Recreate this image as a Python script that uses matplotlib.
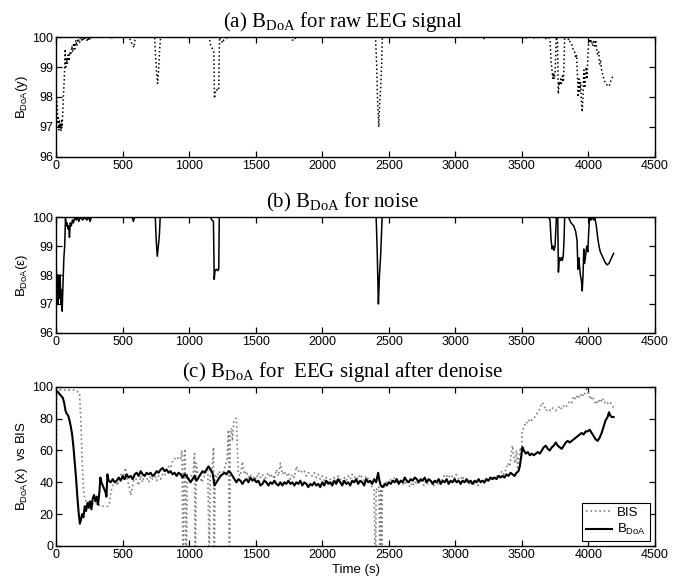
import matplotlib
matplotlib.use("Agg")
import matplotlib.pyplot as plt
import numpy as np

# B_DoA of the raw EEG signal (time in s, index value)
raw_points = [(0, 98.0), (3, 97.9), (8, 97.8), (12, 97.1), (16, 97.3), (20, 96.9), (24, 97.2), (28, 97.0),
              (32, 97.1), (36, 96.85), (40, 97.2), (45, 97.0), (50, 97.5), (55, 98.1), (62, 98.7), (68, 99.6),
              (72, 99.0), (78, 99.3), (84, 99.1), (90, 99.4), (96, 99.2), (102, 99.5), (110, 99.4), (118, 99.7),
              (125, 99.5), (132, 99.8), (140, 99.6), (148, 99.9), (155, 99.7), (165, 99.95), (175, 99.8),
              (185, 100), (195, 99.85), (205, 100), (215, 99.9), (225, 100), (235, 99.85), (245, 100),
              (255, 99.9), (265, 100), (410, 100), (415, 99.92), (420, 100), (550, 100), (560, 99.85),
              (575, 99.75), (585, 99.65), (595, 100), (740, 100), (748, 99.3), (755, 98.8), (762, 98.45),
              (770, 98.9), (778, 99.6), (785, 100), (990, 100), (995, 99.95), (1000, 100), (1150, 100),
              (1160, 99.75), (1175, 99.6), (1185, 99.5), (1190, 97.95), (1195, 98.2), (1205, 98.25),
              (1215, 98.2), (1222, 98.3), (1228, 100), (1240, 99.9), (1250, 99.8), (1260, 99.9),
              (1275, 99.95), (1290, 100), (1770, 100), (1775, 99.9), (1795, 99.9), (1800, 100),
              (2400, 100), (2408, 99.2), (2415, 98.0), (2425, 97.0), (2432, 97.8), (2440, 98.4),
              (2447, 99.2), (2452, 100), (3200, 100), (3205, 99.93), (3215, 99.95), (3220, 100),
              (3490, 100), (3500, 99.95), (3520, 100), (3540, 99.96), (3560, 100), (3600, 99.97),
              (3650, 100), (3680, 99.95), (3700, 100), (3712, 99.9), (3720, 99.2), (3727, 98.9),
              (3733, 98.6), (3738, 98.8), (3744, 98.6), (3750, 98.8), (3755, 99.5), (3760, 100),
              (3768, 99.9), (3774, 98.1), (3780, 98.5), (3786, 98.4), (3792, 98.6), (3798, 98.45),
              (3805, 98.7), (3812, 98.5), (3818, 99.2), (3822, 100), (3835, 100), (3845, 99.9),
              (3855, 99.95), (3865, 99.8), (3875, 99.75), (3885, 99.6), (3895, 99.55), (3905, 99.3),
              (3912, 99.4), (3918, 98.7), (3924, 98.0), (3930, 98.6), (3936, 98.2), (3942, 98.5),
              (3948, 97.8), (3954, 97.5), (3960, 98.0), (3966, 98.9), (3972, 98.3), (3978, 98.6),
              (3984, 99.0), (3990, 98.6), (3996, 99.3), (4002, 99.8), (4008, 100), (4016, 99.8),
              (4024, 99.9), (4032, 99.7), (4040, 99.85), (4048, 99.7), (4055, 99.9), (4062, 99.6),
              (4070, 99.4), (4078, 99.5), (4085, 99.1), (4092, 99.2), (4100, 98.9), (4110, 98.7),
              (4120, 98.55), (4130, 98.45), (4140, 98.4), (4150, 98.35), (4160, 98.4), (4170, 98.55),
              (4180, 98.65), (4190, 98.75)]

# B_DoA of the noise component
noise_points = [(0, 98.6), (5, 97.0), (10, 98.0), (15, 97.0), (20, 98.0), (25, 97.2), (30, 98.0), (35, 97.0),
                (40, 97.5), (45, 96.75), (52, 97.8), (58, 98.6), (64, 99.0), (70, 99.95), (76, 99.7),
                (82, 99.8), (88, 99.6), (94, 99.7), (100, 99.3), (106, 99.8), (114, 99.7), (122, 99.9),
                (130, 99.8), (140, 100), (150, 99.9), (160, 100), (170, 99.85), (180, 100), (200, 99.9),
                (215, 100), (230, 99.9), (245, 100), (255, 99.85), (265, 100), (570, 100), (580, 99.85),
                (590, 100), (745, 100), (752, 99.2), (760, 98.65), (768, 99.0), (776, 99.4), (782, 100),
                (1160, 100), (1170, 99.9), (1182, 99.85), (1188, 97.85), (1194, 98.15), (1205, 98.2),
                (1215, 98.15), (1222, 98.2), (1226, 100), (2405, 100), (2412, 99.0), (2418, 97.8),
                (2422, 97.0), (2430, 98.0), (2438, 98.6), (2446, 99.5), (2450, 100), (3700, 100),
                (3712, 99.9), (3720, 99.2), (3728, 98.9), (3735, 99.0), (3742, 98.85), (3750, 99.0),
                (3756, 99.6), (3760, 100), (3770, 100), (3775, 98.1), (3782, 98.6), (3790, 98.5),
                (3797, 98.6), (3805, 98.5), (3812, 98.7), (3818, 99.3), (3822, 100), (3850, 100),
                (3860, 99.9), (3870, 99.8), (3890, 99.7), (3905, 99.5), (3915, 99.2), (3922, 98.2),
                (3928, 98.6), (3934, 98.3), (3940, 98.0), (3948, 97.8), (3954, 97.45), (3960, 98.0),
                (3966, 98.9), (3972, 98.4), (3980, 98.7), (3988, 99.0), (3996, 98.8), (4004, 99.6),
                (4010, 100), (4020, 99.9), (4030, 100), (4040, 99.9), (4050, 99.95), (4060, 99.7),
                (4070, 99.3), (4080, 99.0), (4090, 98.8), (4100, 98.7), (4110, 98.6), (4125, 98.45),
                (4140, 98.35), (4155, 98.4), (4170, 98.55), (4180, 98.65), (4190, 98.75)]

# BIS monitor reading (drops to 0 are signal dropouts)
bis_points = [(0, 0), (3, 98), (20, 98), (40, 98), (60, 98), (80, 98), (100, 98), (120, 98), (140, 98),
              (160, 97), (175, 96), (185, 80), (195, 55), (205, 35), (215, 30), (225, 28), (240, 27),
              (255, 29), (270, 26), (285, 27), (300, 27), (315, 25), (330, 26), (345, 25), (360, 25),
              (375, 25), (390, 25), (400, 27), (410, 33), (420, 37), (430, 39), (445, 41), (460, 38),
              (475, 42), (490, 45), (505, 41), (520, 49), (535, 42), (550, 37), (560, 32), (575, 38),
              (590, 44), (605, 41), (620, 38), (635, 44), (650, 40), (665, 46), (680, 43), (695, 40),
              (710, 44), (725, 42), (740, 45), (755, 41), (770, 44), (785, 42), (800, 45), (815, 44),
              (830, 47), (845, 50), (860, 49), (875, 53), (890, 55), (905, 54), (920, 56), (935, 55),
              (945, 60), (952, 0), (958, 0), (962, 56), (970, 61), (975, 0), (980, 0), (985, 45),
              (1000, 42), (1015, 44), (1030, 46), (1040, 58), (1043, 0), (1048, 0), (1052, 52),
              (1065, 45), (1080, 44), (1095, 40), (1110, 43), (1125, 46), (1140, 48), (1148, 0),
              (1152, 0), (1158, 45), (1170, 47), (1183, 62), (1186, 0), (1190, 0), (1194, 45),
              (1210, 43), (1225, 47), (1240, 44), (1255, 46), (1270, 50), (1285, 55), (1295, 73),
              (1300, 0), (1305, 0), (1308, 70), (1318, 74), (1325, 66), (1335, 78), (1345, 80),
              (1355, 80), (1362, 60), (1370, 45), (1385, 44), (1400, 53), (1415, 45), (1430, 47),
              (1445, 43), (1460, 45), (1475, 41), (1490, 44), (1505, 42), (1520, 46), (1535, 43),
              (1550, 45), (1565, 41), (1580, 44), (1595, 46), (1610, 43), (1625, 45), (1640, 42),
              (1655, 48), (1670, 44), (1685, 52), (1700, 45), (1715, 47), (1730, 44), (1745, 46),
              (1760, 42), (1775, 45), (1790, 43), (1805, 50), (1820, 47), (1835, 48), (1850, 46),
              (1865, 47), (1880, 44), (1895, 46), (1910, 45), (1925, 44), (1940, 46), (1955, 43),
              (1970, 45), (1985, 42), (2000, 44), (2015, 41), (2030, 43), (2045, 40), (2060, 42),
              (2075, 40), (2090, 43), (2105, 41), (2120, 44), (2135, 42), (2150, 40), (2165, 43),
              (2180, 41), (2195, 44), (2210, 42), (2225, 45), (2240, 43), (2255, 44), (2270, 42),
              (2285, 45), (2300, 43), (2315, 41), (2330, 44), (2345, 42), (2360, 40), (2375, 37),
              (2390, 35), (2396, 0), (2402, 0), (2405, 36), (2415, 35), (2425, 37), (2432, 0),
              (2437, 0), (2440, 36), (2445, 0), (2449, 0), (2452, 38), (2465, 37), (2480, 40),
              (2495, 39), (2510, 42), (2525, 40), (2540, 43), (2555, 41), (2570, 39), (2585, 42),
              (2600, 40), (2615, 38), (2630, 41), (2645, 39), (2660, 37), (2675, 40), (2690, 38),
              (2705, 41), (2720, 39), (2735, 42), (2750, 40), (2765, 38), (2780, 41), (2795, 39),
              (2810, 42), (2825, 40), (2840, 38), (2855, 41), (2870, 39), (2885, 42), (2900, 41),
              (2915, 44), (2930, 43), (2945, 45), (2960, 43), (2975, 44), (2990, 42), (3005, 45),
              (3020, 43), (3035, 40), (3050, 44), (3065, 42), (3080, 39), (3095, 41), (3110, 38),
              (3125, 40), (3140, 39), (3155, 41), (3170, 38), (3185, 40), (3200, 42), (3215, 39),
              (3230, 43), (3245, 41), (3260, 43), (3275, 42), (3290, 44), (3305, 42), (3320, 45),
              (3335, 44), (3350, 47), (3365, 45), (3380, 48), (3395, 52), (3410, 50), (3420, 58),
              (3430, 63), (3440, 56), (3450, 52), (3460, 60), (3470, 48), (3480, 56), (3490, 62),
              (3497, 55), (3503, 73), (3515, 74), (3530, 78), (3545, 77), (3560, 80), (3575, 79),
              (3590, 80), (3605, 82), (3620, 84), (3635, 86), (3650, 90), (3665, 89), (3680, 85),
              (3695, 86), (3710, 85), (3725, 87), (3740, 86), (3755, 85), (3770, 86), (3785, 88),
              (3800, 86), (3815, 88), (3830, 87), (3845, 89), (3860, 91), (3875, 90), (3890, 94),
              (3905, 92), (3920, 95), (3935, 93), (3950, 96), (3965, 94), (3980, 97), (3990, 100),
              (4000, 96), (4015, 92), (4030, 94), (4045, 91), (4060, 89), (4075, 92), (4090, 90),
              (4105, 93), (4120, 90), (4135, 91), (4150, 89), (4165, 90), (4180, 88), (4190, 87)]

# B_DoA of the denoised EEG signal
doa_points = [(0, 97), (10, 97), (20, 96), (30, 95), (40, 94), (50, 93), (60, 90), (70, 85), (80, 83),
              (90, 82), (100, 79), (110, 75), (120, 70), (130, 62), (140, 52), (150, 42), (160, 30),
              (170, 20), (178, 14), (185, 16), (195, 20), (205, 18), (215, 25), (225, 22), (235, 27),
              (245, 24), (255, 28), (265, 23), (275, 30), (285, 32), (295, 28), (305, 31), (315, 26),
              (325, 34), (332, 43), (340, 40), (350, 38), (360, 36), (370, 34), (378, 31), (385, 45),
              (395, 41), (410, 40), (425, 42), (440, 40), (455, 41), (470, 43), (485, 41), (500, 44),
              (515, 42), (530, 45), (545, 43), (560, 44), (575, 42), (590, 45), (605, 46), (620, 44),
              (635, 47), (650, 45), (665, 44), (680, 46), (695, 45), (710, 46), (725, 44), (740, 45),
              (755, 47), (770, 46), (785, 48), (800, 49), (815, 47), (830, 48), (845, 46), (860, 47),
              (875, 45), (890, 46), (905, 44), (920, 46), (935, 45), (950, 43), (965, 45), (980, 44),
              (995, 42), (1010, 40), (1025, 42), (1040, 44), (1055, 41), (1070, 43), (1085, 45),
              (1100, 47), (1115, 46), (1130, 48), (1145, 50), (1160, 48), (1175, 46), (1190, 38),
              (1205, 40), (1220, 42), (1235, 44), (1250, 45), (1265, 46), (1280, 45), (1295, 47),
              (1310, 46), (1325, 44), (1340, 42), (1355, 40), (1370, 42), (1385, 41), (1400, 39),
              (1415, 41), (1430, 42), (1445, 40), (1460, 43), (1475, 41), (1490, 42), (1505, 40),
              (1520, 41), (1535, 38), (1550, 39), (1565, 41), (1580, 40), (1595, 38), (1610, 40),
              (1625, 39), (1640, 41), (1655, 39), (1670, 38), (1685, 40), (1700, 38), (1715, 40),
              (1730, 39), (1745, 41), (1760, 39), (1775, 40), (1790, 38), (1805, 40), (1820, 39),
              (1835, 41), (1850, 38), (1865, 40), (1880, 39), (1895, 37), (1910, 39), (1925, 38),
              (1940, 40), (1955, 38), (1970, 39), (1985, 37), (2000, 40), (2015, 38), (2030, 41),
              (2045, 39), (2060, 40), (2075, 38), (2090, 41), (2105, 39), (2120, 42), (2135, 40),
              (2150, 38), (2165, 41), (2180, 39), (2195, 40), (2210, 38), (2225, 41), (2240, 40),
              (2255, 42), (2270, 39), (2285, 41), (2300, 40), (2315, 38), (2330, 42), (2345, 40),
              (2360, 41), (2375, 39), (2390, 42), (2405, 40), (2420, 46), (2430, 41), (2440, 38),
              (2455, 37), (2470, 39), (2485, 38), (2500, 40), (2515, 39), (2530, 41), (2545, 40),
              (2560, 42), (2575, 39), (2590, 41), (2605, 40), (2620, 43), (2635, 41), (2650, 40),
              (2665, 42), (2680, 41), (2695, 43), (2710, 42), (2725, 40), (2740, 42), (2755, 41),
              (2770, 43), (2785, 40), (2800, 42), (2815, 41), (2830, 39), (2845, 41), (2860, 40),
              (2875, 42), (2890, 39), (2905, 41), (2920, 40), (2935, 42), (2950, 39), (2965, 41),
              (2980, 40), (2995, 42), (3010, 40), (3025, 41), (3040, 39), (3055, 41), (3070, 40),
              (3085, 42), (3100, 40), (3115, 41), (3130, 39), (3145, 41), (3160, 40), (3175, 42),
              (3190, 40), (3205, 41), (3220, 40), (3235, 42), (3250, 41), (3265, 43), (3280, 42),
              (3295, 43), (3310, 42), (3325, 44), (3340, 43), (3355, 44), (3370, 43), (3385, 45),
              (3400, 44), (3415, 46), (3430, 45), (3445, 44), (3460, 46), (3475, 47), (3485, 50),
              (3495, 56), (3505, 62), (3515, 60), (3530, 58), (3545, 59), (3560, 57), (3575, 58),
              (3590, 57), (3605, 58), (3620, 59), (3635, 58), (3650, 60), (3665, 62), (3680, 63),
              (3695, 61), (3710, 60), (3725, 62), (3740, 63), (3755, 65), (3770, 63), (3785, 62),
              (3800, 61), (3815, 63), (3830, 65), (3845, 66), (3860, 65), (3875, 66), (3890, 67),
              (3905, 68), (3920, 69), (3935, 70), (3950, 71), (3965, 70), (3980, 72), (3995, 72),
              (4010, 73), (4025, 71), (4040, 69), (4055, 67), (4070, 66), (4085, 68), (4100, 71),
              (4115, 75), (4130, 79), (4145, 81), (4155, 84), (4165, 82), (4175, 81), (4190, 81)]

x_ticks = [0, 500, 1000, 1500, 2000, 2500, 3000, 3500, 4000, 4500]
top_ticks = [96, 97, 98, 99, 100]
bis_ticks = [0, 20, 40, 60, 80, 100]

DOA = r"$\mathregular{B_{DoA}}$"
SANS = "Liberation Sans"
SERIF = "Liberation Serif"

plt.rcParams["font.family"] = SANS
plt.rcParams["mathtext.default"] = "regular"

LEFT, WIDTH = 0.082, 0.874
TITLE_X = (0.5 - LEFT) / WIDTH   # titles sit at the figure centre


def style_axes(ax, yticks):
    ax.set_xlim(0, 4500)
    ax.set_xticks(x_ticks)
    ax.set_ylim(yticks[0], yticks[-1])
    ax.set_yticks(yticks)
    ax.tick_params(direction="in", top=True, right=True, length=4, width=0.9,
                   labelsize=9, pad=2)
    for s in ax.spines.values():
        s.set_linewidth(1.0)


def set_title(ax, text):
    ax.set_title(text, fontfamily=SERIF, fontsize=15, pad=7, x=TITLE_X)


fig = plt.figure(figsize=(6.85, 5.79), dpi=100)
ax1 = fig.add_axes([LEFT, 0.729, WIDTH, 0.207])
ax2 = fig.add_axes([LEFT, 0.425, WIDTH, 0.200])
ax3 = fig.add_axes([LEFT, 0.057, WIDTH, 0.275])

t, v = np.array(raw_points).T
ax1.plot(t, v, color="black", ls=":", lw=1.1)
style_axes(ax1, top_ticks)
ax1.set_ylabel(DOA + "(y)", fontsize=9.5, labelpad=2)
set_title(ax1, "(a) " + DOA + " for raw EEG signal")

t, v = np.array(noise_points).T
ax2.plot(t, v, color="black", ls="-", lw=1.1)
style_axes(ax2, top_ticks)
ax2.set_ylabel(DOA + "(ε)", fontsize=9.5, labelpad=2)
set_title(ax2, "(b) " + DOA + " for noise")

t, v = np.array(bis_points).T
ax3.plot(t, v, color="0.5", ls=":", lw=1.2, label="BIS")
t, v = np.array(doa_points).T
ax3.plot(t, v, color="black", ls="-", lw=1.5, label=DOA)
style_axes(ax3, bis_ticks)
ax3.set_ylabel(DOA + "(x)  vs BIS", fontsize=9.5, labelpad=2)
ax3.set_xlabel("Time (s)", fontsize=9.5, labelpad=2)
set_title(ax3, "(c) " + DOA + " for  EEG signal after denoise")
leg = ax3.legend(loc="lower right", fontsize=9.5, fancybox=False, framealpha=1,
                 edgecolor="black", handlelength=2.0, borderaxespad=0.4,
                 borderpad=0.25, labelspacing=0.25, handletextpad=0.4)
leg.get_frame().set_linewidth(0.8)

fig.savefig("out.png", dpi=100)
